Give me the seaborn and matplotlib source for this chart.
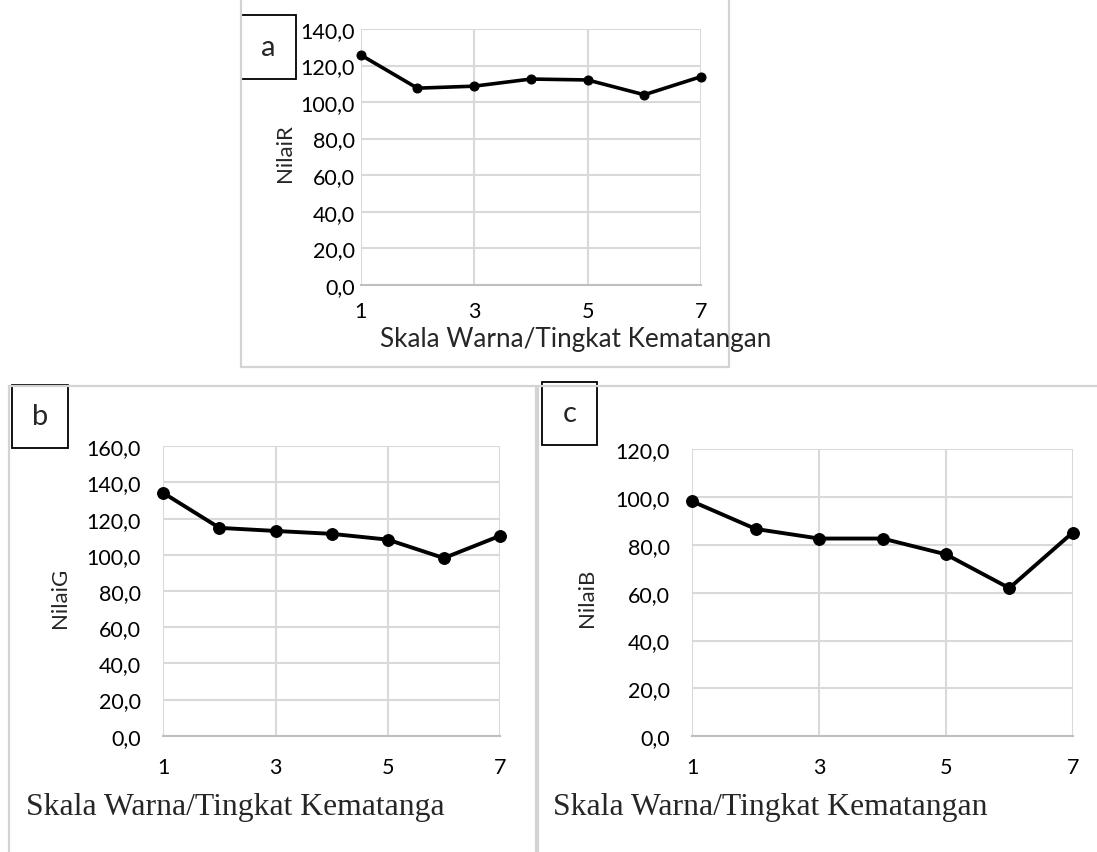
import matplotlib
matplotlib.use("Agg")
import matplotlib.pyplot as plt
import seaborn as sns
import pandas as pd
from matplotlib.ticker import FuncFormatter, MultipleLocator, FixedLocator
from matplotlib.lines import Line2D
from matplotlib.patches import Rectangle

# ---- data ----
skala = [1, 2, 3, 4, 5, 6, 7]
x_ticks = [1, 3, 5, 7]
nilai_r = [125.8, 107.6, 108.7, 112.6, 112.1, 104.0, 113.9]
nilai_g = [134.2, 114.9, 113.2, 111.6, 108.4, 98.2, 110.5]
nilai_b = [98.1, 86.6, 82.6, 82.6, 76.0, 61.9, 85.1]
xlabel_text = "Skala Warna/Tingkat Kematangan"
xlabel_text_b = "Skala Warna/Tingkat Kematanga"

sns.set_style("white")
plt.rcParams['font.family'] = ['Lato', 'DejaVu Sans']

W, H = 1097, 853
fig = plt.figure(figsize=(W / 100, H / 100), dpi=100)

def rect(x0, x1, yt, yb):
    return [x0 / W, 1 - yb / H, (x1 - x0) / W, (yb - yt) / H]

def fx(x):
    return x / W

def fy(y):
    return 1 - y / H

grid_c = "#d9d9d9"
frame_c = "#d3d3d3"

def fmt(v, pos):
    return f"{v:.1f}".replace(".", ",")

def style_ax(ax, ymax, ypad, xpad, tick_fs):
    ax.set_xlim(1, 7)
    ax.set_ylim(0, ymax)
    ax.xaxis.set_major_locator(FixedLocator(x_ticks))
    ax.yaxis.set_major_locator(MultipleLocator(20))
    ax.yaxis.set_major_formatter(FuncFormatter(fmt))
    ax.grid(True, color=grid_c, linewidth=1.5)
    ax.set_axisbelow(True)
    for s in ["top", "right", "left"]:
        ax.spines[s].set_visible(False)
    ax.spines["bottom"].set_color("#bfbfbf")
    ax.spines["bottom"].set_linewidth(1.5)
    ax.tick_params(axis="both", length=0, labelsize=tick_fs, colors="black")
    ax.tick_params(axis="y", pad=ypad)
    ax.tick_params(axis="x", pad=xpad)
    ax.set_xlabel("")
    ax.set_ylabel("")

def draw(ax, y, lw, ms):
    df = pd.DataFrame({"x": skala, "y": y})
    sns.lineplot(data=df, x="x", y="y", ax=ax, color="black", linewidth=lw,
                 marker="o", markersize=ms, markeredgecolor="black")
    for ln in ax.get_lines():
        ln.set_clip_on(False)

# panel a
ax_a = fig.add_axes(rect(360.7, 701, 30, 285.7))
draw(ax_a, nilai_r, 2.6, 6.5)
style_ax(ax_a, 140, 4, 12, 15.5)

# panel b
ax_b = fig.add_axes(rect(163.3, 500, 447.3, 736.7))
draw(ax_b, nilai_g, 2.8, 8.5)
style_ax(ax_b, 160, 16, 15, 15.5)

# panel c
ax_c = fig.add_axes(rect(692.3, 1072.7, 450, 737.3))
draw(ax_c, nilai_b, 2.8, 8.5)
style_ax(ax_c, 120, 16, 15, 15.5)

# y labels
fig.text(fx(285), fy(153), "NilaiR", rotation=90, ha="center", va="center", fontsize=16)
fig.text(fx(60), fy(598), "NilaiG", rotation=90, ha="center", va="center", fontsize=16)
fig.text(fx(587), fy(598), "NilaiB", rotation=90, ha="center", va="center", fontsize=16)

# x labels
fig.text(fx(575.8), fy(347), xlabel_text, ha="center", va="baseline", fontsize=18.8)
fig.text(fx(26), fy(815), xlabel_text_b, ha="left", va="baseline", fontsize=22.8,
         family=["Liberation Serif", "DejaVu Serif"])
fig.text(fx(553), fy(815), xlabel_text, ha="left", va="baseline", fontsize=22.8,
         family=["Liberation Serif", "DejaVu Serif"])

# panel frames
def line(x0, y0, x1, y1, c=frame_c, lw=1.6):
    fig.add_artist(Line2D([fx(x0), fx(x1)], [fy(y0), fy(y1)], color=c, linewidth=lw))

line(241, 0, 241, 368)
line(729, 0, 729, 368)
line(241, 368, 729, 368)
line(9, 386.5, 536, 386.5)
line(9, 386.5, 9, 853)
line(536, 386.5, 536, 853)
line(538, 386.5, 1097, 386.5)
line(538, 386.5, 538, 853)

# letter boxes
def letter_box(x0, x1, yt, yb, s):
    fig.add_artist(Rectangle((fx(x0), fy(yb)), (x1 - x0) / W, (yb - yt) / H,
                             fill=True, facecolor="white", edgecolor="black",
                             linewidth=1.3, transform=fig.transFigure))
    fig.text(fx((x0 + x1) / 2), fy((yt + yb) / 2), s, ha="center", va="center", fontsize=21)

letter_box(241, 296, 16, 80, "a")
letter_box(11.7, 67.7, 386, 449, "b")
letter_box(542, 597, 383, 446, "c")

fig.savefig("out.png", dpi=100)
